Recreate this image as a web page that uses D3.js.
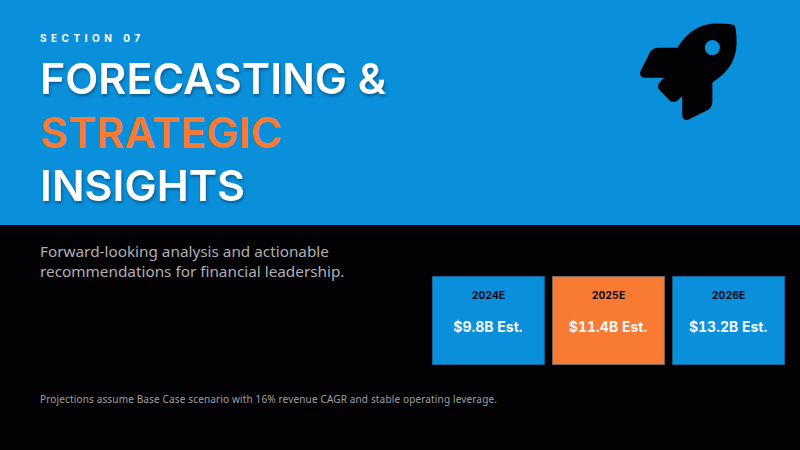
<!DOCTYPE html>
<html><head><meta charset="utf-8">
<script src="https://cdn.jsdelivr.net/npm/d3@7"></script>
<style>html,body{margin:0;padding:0;background:#020204;overflow:hidden}svg{display:block}</style>
</head><body><svg id="c" width="800" height="450"></svg>
<script>
const years = ["2024E","2025E","2026E"];
const estimates = ["$9.8B Est.","$11.4B Est.","$13.2B Est."];
const cardFills = ["#0A8FDB","#F97B33","#0A8FDB"];
const cardStrokes = ["#16649A","#7C6A60","#16649A"];
const titleLines = ["FORECASTING &","STRATEGIC","INSIGHTS"];
const titleFills = ["#FFFFFF","#F97B33","#FFFFFF"];
const subtitleLines = ["Forward-looking analysis and actionable","recommendations for financial leadership."];
const eyebrow = "SECTION 07";
const footnote = "Projections assume Base Case scenario with 16% revenue CAGR and stable operating leverage.";
const rocket = "M505.12,19.09c-1.19-5.53-6.66-11-12.21-12.19C460.72,0,435.51,0,410.41,0,307.18,0,245.27,55.2,199.05,128H94.84c-16.35.02-35.56,11.88-42.89,26.48L2.52,253.3A28.4,28.4,0,0,0,0,264a24.01,24.01,0,0,0,24.01,24H127.82l-22.47,22.47c-11.37,11.36-13,32.26,0,45.25L156.25,406.63c11.16,11.19,32.16,13.16,45.28,0l22.47-22.47V488a24.01,24.01,0,0,0,24.01,24,28.56,28.56,0,0,0,10.71-2.52l98.73-49.39c14.63-7.3,26.51-26.5,26.51-42.86V312.8c72.6-46.31,128.03-108.41,128.03-211.1C512.08,76.5,512.08,51.3,505.12,19.09ZM384.04,168A40,40,0,1,1,424.05,128,40.02,40.02,0,0,1,384.04,168Z";

const svg = d3.select("#c");
svg.append("rect").attr("width",800).attr("height",450).attr("fill","#020204");
svg.append("rect").attr("width",800).attr("height",225).attr("fill","#0A8FDB");

svg.append("text").attr("x",40).attr("y",41.5).text(eyebrow)
  .attr("font-family","Inter").attr("font-weight",700).attr("font-size",10).attr("letter-spacing",4.5).attr("fill","#fff");

const titleY = d3.scalePoint().domain(titleLines).range([94,201]);
svg.selectAll(".title").data(titleLines).join("text").attr("class","title")
  .attr("x",40).attr("y",d=>titleY(d)).text(d=>d)
  .attr("font-family","Inter").attr("font-weight",600).attr("font-size",43)
  .attr("fill",(d,i)=>titleFills[i])
  .style("filter",(d,i)=>i===1?"none":"drop-shadow(1px 2px 1.5px rgba(0,0,0,.35))");

svg.append("path").attr("d",rocket).attr("fill","#020204")
  .attr("transform","translate(640,23.5) scale(0.1885)");

const subY = d3.scalePoint().domain(subtitleLines).range([257,277]);
svg.selectAll(".sub").data(subtitleLines).join("text").attr("class","sub")
  .attr("x",40).attr("y",d=>subY(d)).text(d=>d)
  .attr("font-family","Noto Sans").attr("font-size",15.3).attr("fill","#B0B0B2");

const x = d3.scaleBand().domain(years).range([432,785]).paddingInner(0.0602);
const cards = svg.selectAll(".card").data(years).join("g").attr("class","card")
  .attr("transform",d=>`translate(${x(d)},276)`);
cards.append("rect").attr("x",.5).attr("y",.5).attr("width",x.bandwidth()-1).attr("height",88)
  .attr("fill",(d,i)=>cardFills[i]).attr("stroke",(d,i)=>cardStrokes[i]);
cards.append("text").attr("x",x.bandwidth()/2).attr("y",23).attr("text-anchor","middle").text(d=>d)
  .attr("font-family","Inter").attr("font-weight",700).attr("font-size",10.5).attr("fill","#0A0A14")
  .style("font-variant-numeric","tabular-nums");
cards.append("text").attr("x",x.bandwidth()/2-0.5).attr("y",56).attr("text-anchor","middle").text((d,i)=>estimates[i])
  .attr("font-family","Inter").attr("font-weight",700).attr("font-size",14).attr("fill","#F4F8FB")
  .style("font-variant-numeric","tabular-nums");

svg.append("text").attr("x",40).attr("y",403).text(footnote)
  .attr("font-family","Noto Sans").attr("font-size",10).attr("letter-spacing",.15).attr("fill","#A0A0A2");
</script></body></html>
